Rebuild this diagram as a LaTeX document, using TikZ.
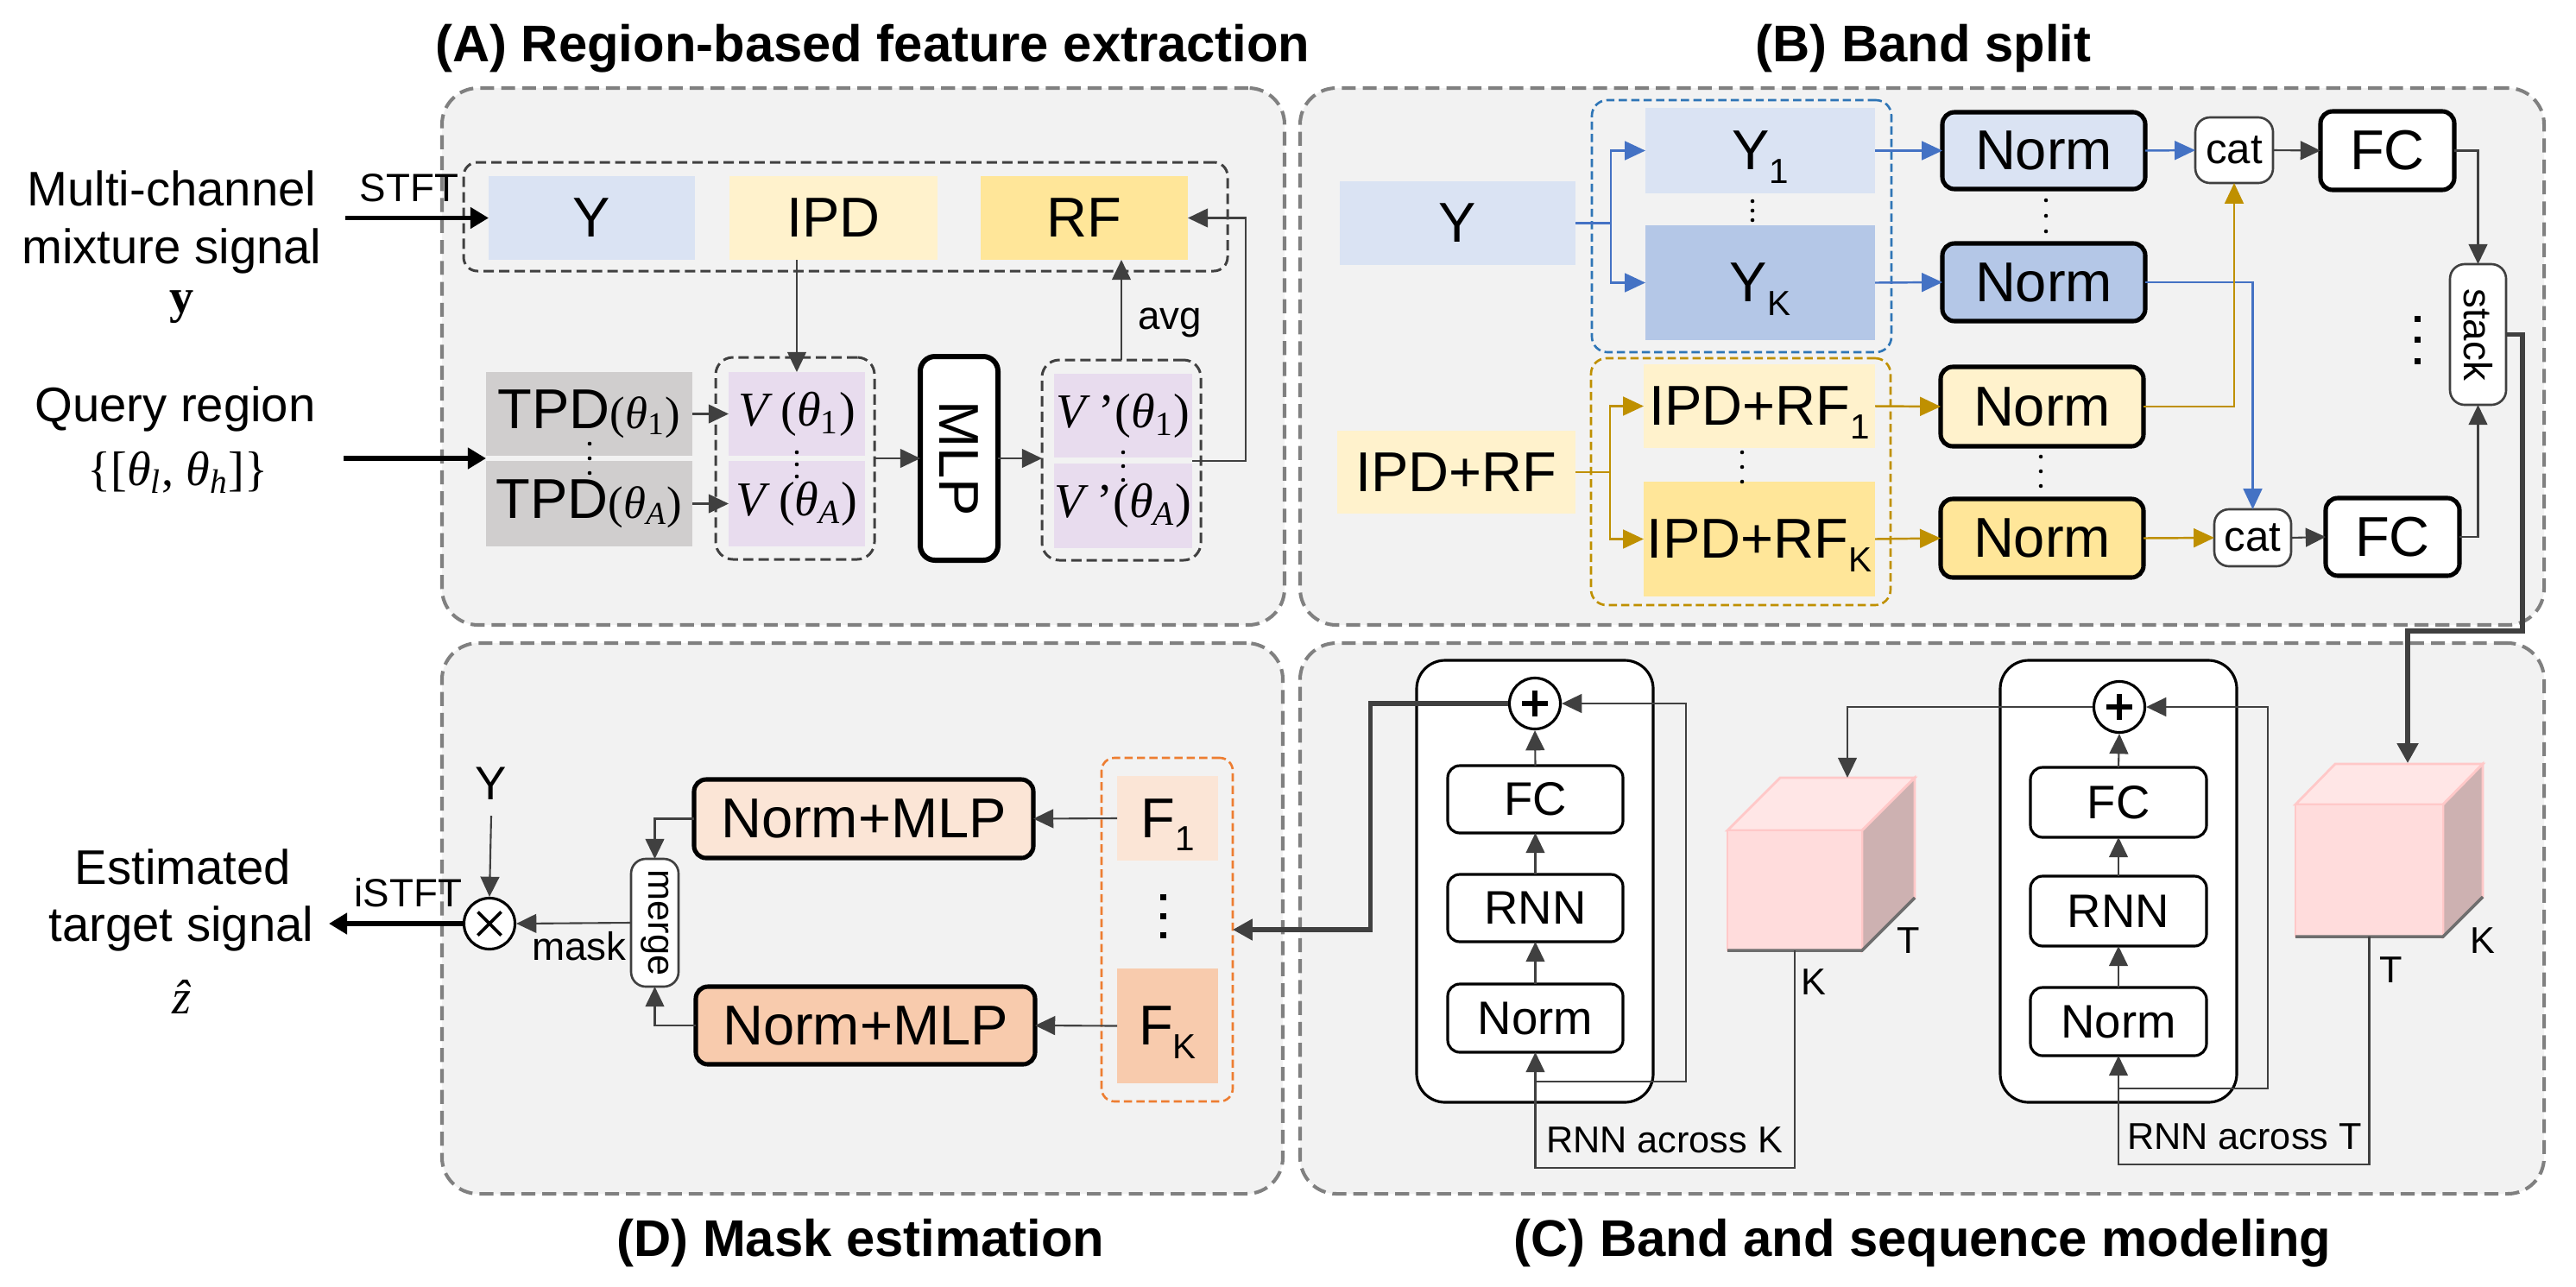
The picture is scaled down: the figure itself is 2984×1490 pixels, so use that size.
\documentclass[tikz,border=0pt]{standalone}
\usepackage{fontspec}
\setmainfont{Liberation Sans}
\newfontfamily\serfam{Liberation Serif}
\usepackage{graphicx}
\usetikzlibrary{arrows.meta}

\definecolor{panelbg}{HTML}{F2F2F2}
\definecolor{panelln}{HTML}{808080}
\definecolor{dk}{HTML}{404040}
\definecolor{ylt}{HTML}{DAE3F3}
\definecolor{ydk}{HTML}{B4C7E7}
\definecolor{ilt}{HTML}{FFF2CC}
\definecolor{idk}{HTML}{FFE699}
\definecolor{tpdc}{HTML}{D0CECE}
\definecolor{vpur}{HTML}{E8DCEE}
\definecolor{flt}{HTML}{FBE5D6}
\definecolor{fdk}{HTML}{F8CBAD}
\definecolor{bdash}{HTML}{2E75B6}
\definecolor{barrow}{HTML}{4472C4}
\definecolor{gold}{HTML}{BF9000}
\definecolor{orng}{HTML}{ED7D31}
\definecolor{cubefront}{HTML}{FFDCDC}
\definecolor{cubetop}{HTML}{FFE6E6}
\definecolor{cubeside}{HTML}{CDB1B1}
\definecolor{cubeedge}{HTML}{FFC8C8}
\definecolor{cubebot}{HTML}{6E6E6E}

\newcommand\ftitle{\fontsize{17}{20}\selectfont\bfseries}
\newcommand\fbig{\fontsize{18.5}{22}\selectfont}
\newcommand\fleft{\fontsize{16}{19}\selectfont}
\newcommand\fsm{\fontsize{13}{15}\selectfont}
\newcommand\fcat{\fontsize{14}{16}\selectfont}
\newcommand\fmid{\fontsize{15.5}{18}\selectfont}
\newcommand\facr{\fontsize{12.3}{14}\selectfont}
\newcommand\fser{\serfam\fontsize{16}{19}\selectfont}
\newcommand\sub[1]{\raisebox{-4.4pt}[0pt][0pt]{\fontsize{11.5}{12}\selectfont #1}}
\newcommand\tpdth[1]{{\serfam\fontsize{15}{17}\selectfont(\textit{θ}\textsubscript{#1})}}
\newcommand\vth[2]{{\serfam\fontsize{16}{19}\selectfont\textit{V}\,#1(\textit{θ}\textsubscript{#2})}}
\newcommand\bx[7]{\node[#6, minimum width={(#4-#2)*0.01cm}, minimum height={(#5-#3)*0.01cm}] (#1) at ({(#2+#4)/2},{(#3+#5)/2}) {#7};}
\newcommand\sdots[4]{\foreach \yy in {#2,#3,#4} {\fill (#1,\yy) circle[radius=0.65pt];}}
\newcommand\bdots[4]{\foreach \yy in {#2,#3,#4} {\fill ({#1-3.5},{\yy-3.5}) rectangle ({#1+3.5},{\yy+3.5});}}

\tikzset{
 base/.style={inner sep=0pt, outer sep=0pt},
 panel/.style={base, draw=panelln, fill=panelbg, line width=1.15pt, dash pattern=on 4.6pt off 2.3pt, rounded corners=0.42cm},
 grpdash/.style={base, draw=dk, line width=0.85pt, dash pattern=on 3.4pt off 1.7pt, rounded corners=0.16cm},
 cdash/.style={base, line width=0.75pt, dash pattern=on 2.7pt off 1.4pt, rounded corners=0.18cm},
 flat/.style={base, font=\fbig},
 thickbox/.style={base, draw=black, line width=1.45pt, rounded corners=0.14cm, font=\fbig},
 catbox/.style={base, draw=dk, fill=white, line width=0.75pt, rounded corners=0.17cm},
 cblock/.style={base, draw=black, fill=white, line width=0.9pt, rounded corners=0.33cm},
 cbox/.style={base, draw=black, fill=white, line width=0.9pt, rounded corners=0.14cm, font=\fmid},
 cubef/.style={base, draw=cubeedge, fill=cubefront, line width=0.8pt},
 garr/.style={draw=dk, line width=0.6pt, -{Triangle[length=6.6pt,width=6.2pt]}},
 barr/.style={draw=barrow, line width=0.7pt, -{Triangle[length=6.8pt,width=6.2pt]}},
 oarr/.style={draw=gold, line width=0.7pt, -{Triangle[length=6.8pt,width=6.2pt]}},
 karr/.style={draw=black, line width=1.45pt, -{Triangle[length=6pt,width=6.8pt]}},
 tarr/.style={draw=dk, line width=1.45pt, -{Triangle[length=6.5pt,width=6.8pt]}},
 lbl/.style={base, anchor=base},
 plus/.style={circle, draw=black, fill=white, line width=0.9pt, minimum size=0.59cm, inner sep=0pt,
   path picture={\draw[line width=1.9pt] ([xshift=-0.15cm]path picture bounding box.center) -- ([xshift=0.15cm]path picture bounding box.center);
                 \draw[line width=1.9pt] ([yshift=-0.15cm]path picture bounding box.center) -- ([yshift=0.15cm]path picture bounding box.center);}},
 timesc/.style={circle, draw=black, fill=white, line width=0.9pt, minimum size=0.59cm, inner sep=0pt,
   path picture={\draw[line width=1.05pt] ([xshift=-0.135cm,yshift=-0.135cm]path picture bounding box.center) -- ([xshift=0.135cm,yshift=0.135cm]path picture bounding box.center);
                 \draw[line width=1.05pt] ([xshift=-0.135cm,yshift=0.135cm]path picture bounding box.center) -- ([xshift=0.135cm,yshift=-0.135cm]path picture bounding box.center);}},
}

\begin{document}
\begin{tikzpicture}[x=0.01cm, y=-0.01cm]
\useasboundingbox (0,0) rectangle (2984,1490);
\fill[white] (0,0) rectangle (2984,1490);

% ---------- panels ----------
\bx{pA}{512}{102}{1488}{724}{panel}{}
\bx{pB}{1506}{102}{2947}{724}{panel}{}
\bx{pD}{512}{745}{1486}{1383}{panel}{}
\bx{pC}{1506}{745}{2947}{1383}{panel}{}

% ---------- titles ----------
\node[lbl, font=\ftitle] (tA) at (1011,71) {(A) Region-based feature extraction};
\node[lbl, font=\ftitle] (tB) at (2228,71) {(B) Band split};
\node[lbl, font=\ftitle] (tD) at (997,1455) {(D) Mask estimation};
\node[lbl, font=\ftitle] (tC) at (2227,1455) {(C) Band and sequence modeling};

% ---------- left texts ----------
\node[lbl, font=\fleft] (m1) at (199,238) {Multi-channel};
\node[lbl, font=\fleft] (m2) at (199,305) {mixture signal};
\node[lbl, font=\fser\bfseries] (m3) at (211,362) {y};
\node[lbl, font=\fleft] (q1) at (203,488) {Query region};
\node[lbl, font=\fser] (q2) at (206,562) {\{[\textit{θ}\textsubscript{\textit{l}}, \textit{θ}\textsubscript{\textit{h}}]\}};
\node[lbl, font=\fleft] (e1) at (212,1024) {Estimated};
\node[lbl, font=\fleft] (e2) at (210,1090) {target signal};
\node[lbl, font=\fser\itshape] (e3) at (210,1174) {\accent"02C6 z};

% ---------- panel A ----------
\bx{grpA}{537}{188}{1422}{314}{grpdash}{}
\bx{YA}{566}{204}{805}{301}{flat, fill=ylt}{Y}
\bx{IPDA}{845}{204}{1086}{301}{flat, fill=ilt}{IPD}
\bx{RFA}{1136}{204}{1376}{301}{flat, fill=idk}{RF}
\bx{TPD1}{563}{431}{802}{528}{flat, fill=tpdc}{TPD\tpdth{1}}
\bx{TPDA}{563}{534}{802}{633}{flat, fill=tpdc}{TPD\tpdth{\textit{A}}}
\bx{Vdash}{829}{414}{1013}{648}{grpdash, rounded corners=0.2cm}{}
\bx{V1}{844}{431}{1002}{528}{flat, fill=vpur}{\vth{}{1}}
\bx{VA}{844}{534}{1002}{633}{flat, fill=vpur}{\vth{}{\textit{A}}}
\bx{MLP}{1066}{413}{1156}{649}{base, draw=black, fill=white, line width=1.7pt, rounded corners=0.17cm, font=\fbig}{\rotatebox{-90}{MLP}}
\bx{Vpdash}{1207}{417}{1391}{649}{grpdash, rounded corners=0.2cm}{}
\bx{Vp1}{1221}{433}{1381}{530}{flat, fill=vpur}{\vth{’}{1}}
\bx{VpA}{1221}{537}{1381}{635}{flat, fill=vpur}{\vth{’}{\textit{A}}}
\sdots{683}{514}{531}{548}
\sdots{923}{524}{538}{552}
\sdots{1301}{524}{540}{556}

\node[lbl, font=\fsm] (stft) at (474,233) {STFT};
\coordinate (stftin) at (400,252.5);
\draw[karr] (stftin) -- (YA.west);
\coordinate (qin) at (398,531);
\coordinate (tpdmid) at (563,531);
\draw[karr] (qin) -- (tpdmid);
\draw[garr] (V1.north |- IPDA.south) -- (V1.north);
\draw[garr] (TPD1.east) -- (V1.west);
\draw[garr] (TPDA.east) -- (VA.west);
\draw[garr] (Vdash.east) -- (MLP.west);
\draw[garr] (MLP.east) -- (Vpdash.west |- MLP.east);
\draw[garr] (Vpdash.north) -- (Vpdash.north |- RFA.south);
\node[lbl, font=\fsm] (avg) at (1355,381) {avg};
\coordinate (vpout) at (1381,534);
\draw[garr] (vpout) -- ++(62,0) |- (RFA.east);

% ---------- panel B ----------
\bx{YB}{1552}{210}{1825}{307}{flat, fill=ylt}{Y}
\bx{IRB}{1549}{499}{1825}{595}{flat, fill=ilt}{IPD+RF}
\bx{bgrp}{1844}{116}{2191}{408}{cdash, draw=bdash}{}
\bx{Y1}{1906}{125}{2172}{224}{flat, fill=ylt}{Y\sub{1}}
\bx{YK}{1906}{261}{2172}{394}{flat, fill=ydk}{Y\sub{K}}
\bx{ogrp}{1843}{415}{2190}{701}{cdash, draw=gold}{}
\bx{R1}{1904}{422}{2172}{519}{flat, fill=ilt}{IPD+RF\sub{1}}
\bx{RK}{1904}{558}{2172}{691}{flat, fill=idk}{IPD+RF\sub{K}}
\bx{N1}{2250}{130}{2485}{219}{thickbox, fill=ylt}{Norm}
\bx{N2}{2250}{282}{2485}{372}{thickbox, fill=ydk}{Norm}
\bx{N3}{2248}{425}{2483}{517}{thickbox, fill=ilt}{Norm}
\bx{N4}{2248}{578}{2483}{669}{thickbox, fill=idk}{Norm}
\bx{cat1}{2543}{136}{2633}{212}{catbox, font=\fcat}{cat}
\bx{cat2}{2565}{590}{2654}{656}{catbox, font=\fcat}{cat}
\bx{FC1}{2688}{129}{2843}{220}{thickbox, fill=white}{FC}
\bx{FC2}{2694}{577}{2849}{667}{thickbox, fill=white}{FC}
\bx{stk}{2838}{306}{2903}{469}{catbox, font=\fsm}{\rotatebox{-90}{stack}}
\sdots{2030}{233}{244}{255}
\sdots{2370}{232}{250}{268}
\sdots{2018}{524}{541}{558}
\sdots{2364}{529}{546}{563}
\bdots{2800}{369}{393}{418}

\coordinate (bsplit) at (1866,258.5);
\draw[draw=barrow, line width=0.7pt] (YB.east) -- (bsplit);
\draw[barr] (bsplit) |- (Y1.west);
\draw[barr] (bsplit) |- (YK.west);
\coordinate (osplit) at (1865,547);
\draw[draw=gold, line width=0.7pt] (IRB.east) -- (osplit);
\draw[oarr] (osplit) |- (R1.west);
\draw[oarr] (osplit) |- (RK.west);
\draw[barr] (Y1.east) -- (N1.west);
\draw[barr] (YK.east) -- (N2.west);
\draw[oarr] (R1.east) -- (N3.west);
\draw[oarr] (RK.east) -- (N4.west);
\draw[barr] (N1.east) -- (cat1.west);
\draw[barr] (N2.east) -| (cat2.north);
\draw[oarr] (N3.east) -| (cat1.south);
\draw[oarr] (N4.east) -- (cat2.west);
\draw[garr] (cat1.east) -- (FC1.west);
\draw[garr] (cat2.east) -- (FC2.west);
\draw[garr] (FC1.east) -| (stk.north);
\draw[garr] (FC2.east) -| (stk.south);

% ---------- panel C ----------
\bx{blk1}{1641}{765}{1915}{1277}{cblock}{}
\bx{blk2}{2317}{765}{2591}{1277}{cblock}{}
\node[plus] (p1) at (1778,815) {};
\node[plus] (p2) at (2455,819) {};
\bx{cFC1}{1677}{887}{1880}{965}{cbox}{FC}
\bx{cRNN1}{1677}{1013}{1880}{1091}{cbox}{RNN}
\bx{cN1}{1677}{1140}{1880}{1219}{cbox}{Norm}
\bx{cFC2}{2352}{889}{2556}{970}{cbox}{FC}
\bx{cRNN2}{2352}{1015}{2556}{1096}{cbox}{RNN}
\bx{cN2}{2352}{1144}{2556}{1223}{cbox}{Norm}

% cube 1
\filldraw[fill=cubetop, draw=cubeedge, line width=0.8pt] (2001,962) -- (2062,901) -- (2218,901) -- (2157,962) -- cycle;
\filldraw[fill=cubeside, draw=cubeedge, line width=0.8pt] (2157,962) -- (2218,901) -- (2218,1040) -- (2157,1101) -- cycle;
\bx{cube1}{2001}{962}{2157}{1101}{cubef}{}
\draw[cubebot, line width=1pt] (cube1.south west) -- (cube1.south east) -- (2218,1040);
% cube 2
\filldraw[fill=cubetop, draw=cubeedge, line width=0.8pt] (2659,932) -- (2705,885) -- (2876,885) -- (2830,932) -- cycle;
\filldraw[fill=cubeside, draw=cubeedge, line width=0.8pt] (2830,932) -- (2876,885) -- (2876,1039) -- (2830,1085) -- cycle;
\bx{cube2}{2659}{932}{2830}{1085}{cubef}{}
\draw[cubebot, line width=1pt] (cube2.south west) -- (cube2.south east) -- (2876,1039);

\node[lbl, font=\facr] (t1) at (2211,1104) {T};
\node[lbl, font=\facr] (k1) at (2101,1152) {K};
\node[lbl, font=\facr] (k2) at (2876,1104) {K};
\node[lbl, font=\facr] (t2) at (2770,1138) {T};
\node[lbl, font=\facr] (ak) at (1928,1335) {RNN across K};
\node[lbl, font=\facr] (at) at (2600,1331) {RNN across T};

\draw[garr] (cN1.north) -- (cRNN1.south);
\draw[garr] (cRNN1.north) -- (cFC1.south);
\draw[garr] (cFC1.north) -- (p1.south);
\draw[garr] (cN2.north) -- (cRNN2.south);
\draw[garr] (cRNN2.north) -- (cFC2.south);
\draw[garr] (cFC2.north) -- (p2.south);
\coordinate (r1a) at (1778,1253);
\draw[garr] (r1a) -- ++(175,0) |- (p1.east);
\coordinate (r2a) at (2455,1261);
\draw[garr] (r2a) -- ++(172,0) |- (p2.east);
\draw[garr] (cube1.south) -- ++(0,252) -| (cN1.south);
\draw[garr] (cube2.south) -- ++(0,264) -| (cN2.south);
\coordinate (c1top) at (2140,901);
\draw[garr] (p2.west) -| (c1top);
\coordinate (sbend) at (2922,731);
\coordinate (c2top) at (2789,884);
\draw[tarr] (stk.east) -| (sbend) -| (c2top);

% ---------- panel D ----------
\node[timesc] (mul) at (567,1070) {};
\node[lbl, font=\fmid] (YD) at (569,926) {Y};
\coordinate (ydbot) at (569,945);
\draw[garr] (ydbot) -- (mul.north);
\bx{merge}{731}{995}{786}{1143}{catbox, font=\facr}{\rotatebox{-90}{merge}}
\draw[garr] (merge.west) -- (mul.east);
\node[lbl, font=\fsm] (mask) at (671,1112) {mask};
\coordinate (outend) at (381,1070);
\draw[karr] (mul.west) -- (outend);
\node[lbl, font=\fsm] (istft) at (473,1050) {iSTFT};
\bx{NM1}{804}{903}{1197}{994}{thickbox, fill=flt}{Norm+MLP}
\bx{NM2}{806}{1143}{1199}{1233}{thickbox, fill=fdk}{Norm+MLP}
\draw[garr] (NM1.west) -| (merge.north);
\draw[garr] (NM2.west) -| (merge.south);
\bx{Fgrp}{1276}{878}{1428}{1276}{cdash, draw=orng, rounded corners=0.15cm}{}
\bx{F1}{1294}{899}{1411}{997}{flat, fill=flt}{F\sub{1}}
\bx{FK}{1294}{1122}{1411}{1255}{flat, fill=fdk}{F\sub{K}}
\draw[garr] (F1.west) -- (NM1.east);
\draw[garr] (FK.west) -- (NM2.east);
\bdots{1347}{1039}{1061}{1083}

\draw[tarr] (p1.west) -- ++(-159,0) |- (Fgrp.east);
\end{tikzpicture}
\end{document}
